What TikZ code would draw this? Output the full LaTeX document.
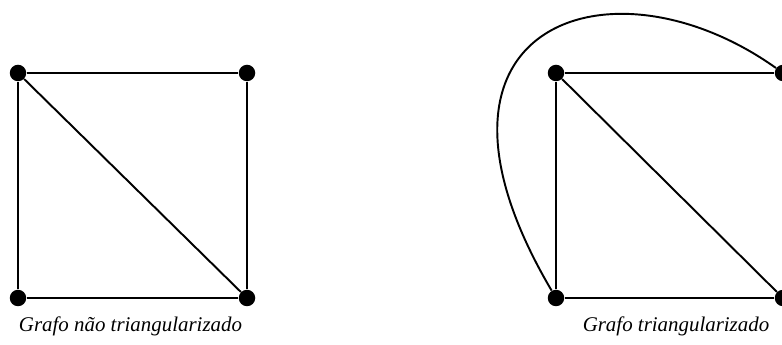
\documentclass[tikz,border=0pt]{standalone}
\usepackage{fontspec}
\setmainfont{Liberation Serif}
\usepackage{tikz}

\begin{document}
\begin{tikzpicture}[
    vertex/.style={circle, fill=black, inner sep=0pt, minimum size=0.33cm},
    edge/.style={line width=1.1pt, black},
    caption/.style={font=\itshape\fontsize{11.9}{14}\selectfont, anchor=base}
]
    % Frame of the picture (right vertices are cut at the border)
    \useasboundingbox (0,0) rectangle (15.64,6.9);

    % Graph not triangulated
    \node[vertex] (a1) at (0.36,5.44) {};
    \node[vertex] (a2) at (4.94,5.44) {};
    \node[vertex] (a3) at (0.36,0.94) {};
    \node[vertex] (a4) at (4.94,0.94) {};
    \draw[edge] (a1) -- (a2) -- (a4) -- (a3) -- (a1);
    \draw[edge] (a1) -- (a4);

    % Graph triangulated
    \node[vertex] (b1) at (11.12,5.44) {};
    \node[vertex] (b2) at (15.66,5.44) {};
    \node[vertex] (b3) at (11.12,0.94) {};
    \node[vertex] (b4) at (15.66,0.94) {};
    \draw[edge] (b1) -- (b2) -- (b4) -- (b3) -- (b1);
    \draw[edge] (b1) -- (b4);
    \draw[edge] (b3) .. controls (7.9,6.4) and (12.2,7.9) .. (b2);

    % Captions
    \node[caption] (capa) at (2.61,0.26) {Grafo não triangularizado};
    \node[caption] (capb) at (13.52,0.26) {Grafo triangularizado};
\end{tikzpicture}
\end{document}
